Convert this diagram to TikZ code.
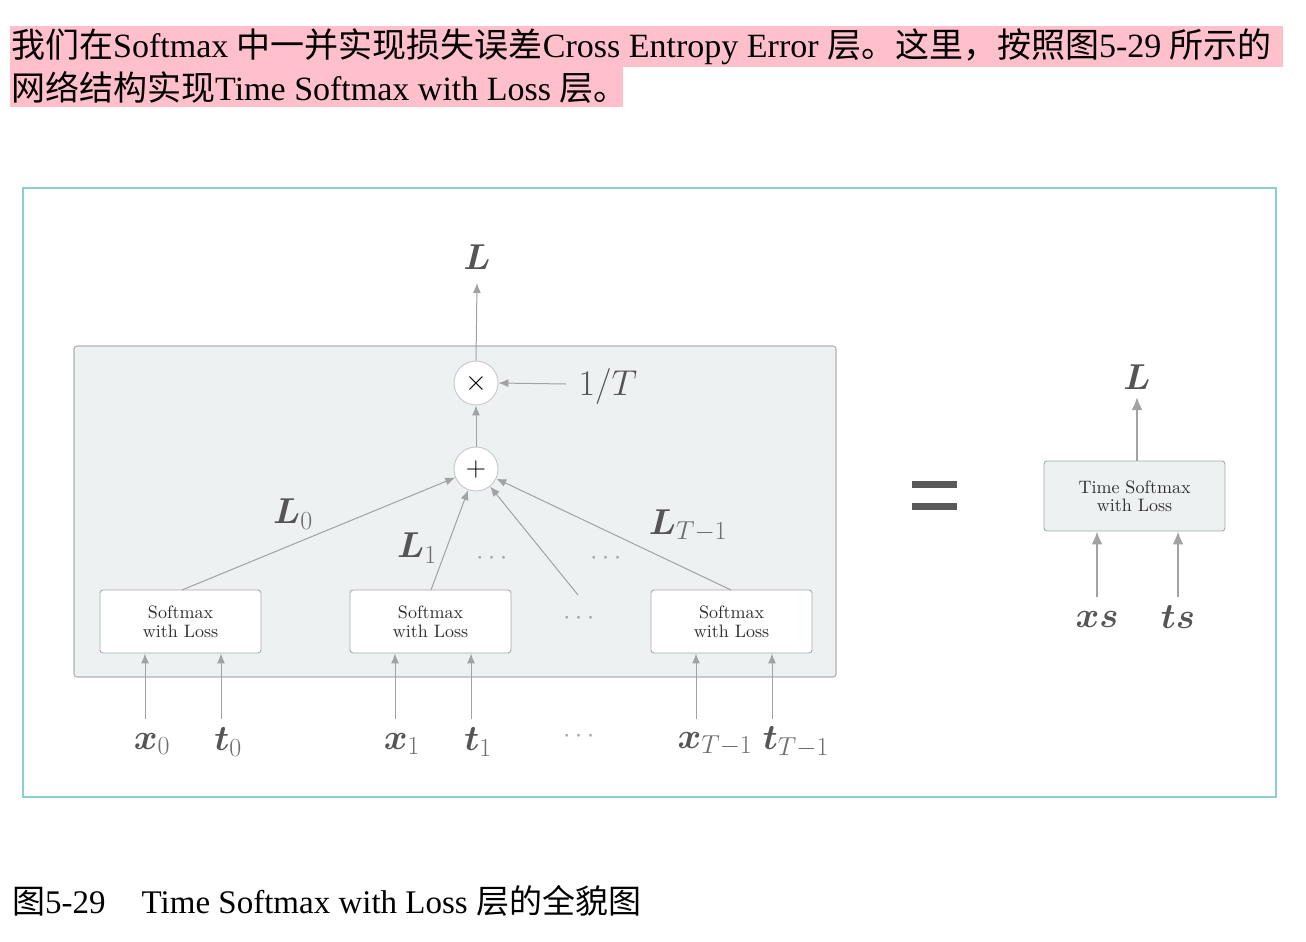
\RequirePackage{fix-cm}
\documentclass[tikz,border=0pt]{standalone}
\usepackage{fontspec}
\usepackage{amsmath,bm}
\newfontfamily\cjk{Noto Sans CJK SC}
\newfontfamily\bodyfont{Liberation Serif}
\newfontfamily\boxfont{lmroman10-regular}[Extension=.otf]
\usetikzlibrary{arrows.meta}
\DeclareMathSizes{36}{36}{26}{20}
\DeclareMathSizes{34}{34}{25}{19}
\definecolor{pinkhl}{HTML}{FFC0CB}
\definecolor{framec}{HTML}{8ACFD6}
\definecolor{panelc}{HTML}{EDF1F2}
\definecolor{edgec}{HTML}{A0A2A3}
\definecolor{labc}{HTML}{555555}
\definecolor{subc}{HTML}{6E6E6E}
\definecolor{boxline}{HTML}{A8AAAB}
\tikzset{
  arr/.style={draw=edgec, line width=1pt, -{Latex[length=10pt,width=8pt]}},
  arrbig/.style={draw=edgec, line width=2.2pt, -{Latex[length=13pt,width=11pt]}},
  smbox/.style={draw=boxline, fill=white, rounded corners=3pt, line width=0.9pt,
    minimum width=161pt, minimum height=63pt, align=center, text=black!82,
    font=\boxfont\fontsize{18}{18.5}\selectfont},
  opnode/.style={circle, draw=black!22, fill=white, line width=0.9pt, minimum size=44pt,
    inner sep=0pt, font=\fontsize{28}{28}\selectfont},
  mlab/.style={text=labc, inner sep=0pt, font=\fontsize{36}{40}\selectfont},
  dots/.style={text=black!35, inner sep=0pt, font=\fontsize{27}{27}\selectfont},
  body/.style={anchor=base west, inner sep=0pt, font=\bodyfont\fontsize{34}{38}\selectfont}
}
\begin{document}
\begin{tikzpicture}[x=1pt,y=-1pt]
\useasboundingbox (0,0) rectangle (1306,942);
% highlighted body text
\fill[pinkhl] (10,26) rectangle (1283,67);
\fill[pinkhl] (10,67) rectangle (623,107);
\node[body] (line1) at (11,58) {{\cjk 我们在}Softmax {\cjk 中一并实现损失误差}Cross Entropy Error {\cjk 层。这里，按照图}5-29 {\cjk 所示的}};
\node[body] (line2) at (11,100) {{\cjk 网络结构实现}Time Softmax with Loss {\cjk 层。}};
% figure frame
\draw[framec, line width=1.3pt] (23,188) rectangle (1276,797);
% panel
\draw[draw=black!30, fill=panelc, line width=1.1pt, rounded corners=3pt] (74,346) rectangle (836,677);
% operators
\node[opnode] (mul) at (476,383) {$\times$};
\node[opnode] (plus) at (476,469) {$+$};
\node[mlab] (Ltop) at (477,257) {$\bm{L}$};
\node[mlab] (invT) at (608,386) {$1/T$};
\coordinate (invTin) at (566,384);
\draw[arr] (mul.north) -- (Ltop.south |- 0,283);
\draw[arr] (invTin) -- (mul.east);
\draw[arr] (plus.north) -- (mul.south);
% softmax boxes
\node[smbox] (b1) at (180.5,621.5) {Softmax\\with Loss};
\node[smbox] (b2) at (430.5,621.5) {Softmax\\with Loss};
\node[smbox] (b3) at (731.5,621.5) {Softmax\\with Loss};
\coordinate (b1top) at (182,590);
\coordinate (b2top) at (431,590);
\coordinate (b3top) at (731,590);
\coordinate (dd) at (578,595);
\draw[arr] (b1top) -- (plus);
\draw[arr] (b2top) -- (plus);
\draw[arr] (dd) -- (plus);
\draw[arr] (b3top) -- (plus);
% L labels
\node[mlab] (L0) at (293,514) {$\bm{L}_{\textcolor{subc}{0}}$};
\node[mlab] (L1) at (417,548) {$\bm{L}_{\textcolor{subc}{1}}$};
\node[mlab] (LT) at (688,526) {$\bm{L}_{\textcolor{subc}{T-1}}$};
% dots
\node[dots] (d1) at (494,558) {$\cdots$};
\node[dots] (d2) at (608,558) {$\cdots$};
\node[dots] (d3) at (581,618) {$\cdots$};
\node[dots] (d4) at (581,736) {$\cdots$};
% inputs
\node[mlab] (x0) at (152,744) {$\bm{x}_{\textcolor{subc}{0}}$};
\node[mlab] (t0) at (228,742) {$\bm{t}_{\textcolor{subc}{0}}$};
\node[mlab] (x1) at (402,744) {$\bm{x}_{\textcolor{subc}{1}}$};
\node[mlab] (t1) at (478,742) {$\bm{t}_{\textcolor{subc}{1}}$};
\node[mlab] (xT) at (715,744) {$\bm{x}_{\textcolor{subc}{T-1}}$};
\node[mlab] (tT) at (796,742) {$\bm{t}_{\textcolor{subc}{T-1}}$};
\coordinate (ix0) at (145,719);
\coordinate (it0) at (221,719);
\coordinate (ix1) at (395,719);
\coordinate (it1) at (471,719);
\coordinate (ixT) at (696,719);
\coordinate (itT) at (772,719);
\draw[arr] (ix0) -- (ix0 |- b1.south);
\draw[arr] (it0) -- (it0 |- b1.south);
\draw[arr] (ix1) -- (ix1 |- b2.south);
\draw[arr] (it1) -- (it1 |- b2.south);
\draw[arr] (ixT) -- (ixT |- b3.south);
\draw[arr] (itT) -- (itT |- b3.south);
% equals sign
\fill[black!65] (912,481) rectangle (957,488);
\fill[black!65] (912,503) rectangle (957,510);
% right block
\node[smbox, fill=panelc, minimum width=181pt, minimum height=70pt] (tsl) at (1134.5,496) {Time Softmax\\with Loss};
\node[mlab] (Lr) at (1137,377) {$\bm{L}$};
\node[mlab] (xs) at (1097,619) {$\bm{xs}$};
\node[mlab] (ts) at (1178,617) {$\bm{ts}$};
\coordinate (xsb) at (1097,597);
\coordinate (tsb) at (1178,597);
\draw[arrbig] (tsl.north -| Lr) -- (Lr.south |- 0,397);
\draw[arrbig] (xsb) -- (xsb |- tsl.south);
\draw[arrbig] (tsb) -- (tsb |- tsl.south);
% caption
\node[body, font=\bodyfont\fontsize{33}{38}\selectfont] (cap) at (12,913) {{\cjk 图}5-29\hspace{36pt}Time Softmax with Loss {\cjk 层的全貌图}};
\end{tikzpicture}
\end{document}
